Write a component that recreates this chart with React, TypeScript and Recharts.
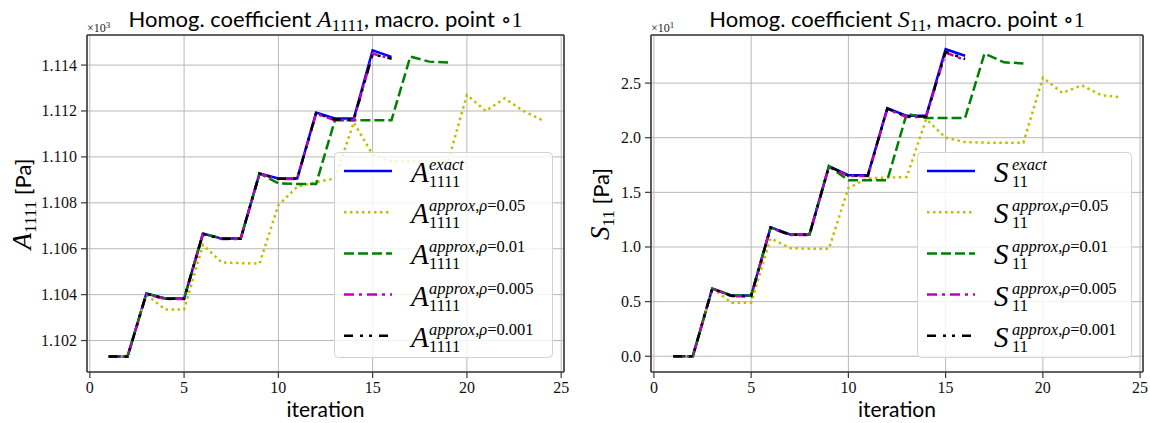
import React from 'react';
import { LineChart, Line, XAxis, YAxis, CartesianGrid } from 'recharts';

// ---------- data ----------
const iterations = [1, 2, 3, 4, 5, 6, 7, 8, 9, 10, 11, 12, 13, 14, 15, 16, 17, 18, 19, 20, 21, 22, 23, 24];
const xTicks = [0, 5, 10, 15, 20, 25];

// A_1111 (x10^3 Pa)
const aExact = [1.1013, 1.1013, 1.10405, 1.10383, 1.10383, 1.10666, 1.10644, 1.10644, 1.10928, 1.10906, 1.10906, 1.11193, 1.11167, 1.11167, 1.11464, 1.11436];
const aRho005 = [1.1013, 1.1013, 1.10403, 1.10381, 1.10381, 1.10664, 1.10642, 1.10642, 1.10926, 1.10904, 1.10904, 1.11188, 1.1116, 1.1116, 1.1145, 1.11427];
const aRho001 = [1.1013, 1.1013, 1.10404, 1.10382, 1.10382, 1.10665, 1.10643, 1.10643, 1.10927, 1.10905, 1.10905, 1.1119, 1.11163, 1.11163, 1.11447, 1.11428];
const aRho01 = [1.1013, 1.1013, 1.10405, 1.10383, 1.10383, 1.10666, 1.10644, 1.10644, 1.10928, 1.10885, 1.10882, 1.10882, 1.1116, 1.1116, 1.1116, 1.1116, 1.11437, 1.11415, 1.11411];
const aRho05 = [1.1013, 1.1013, 1.104, 1.10335, 1.10335, 1.10617, 1.1054, 1.10537, 1.10535, 1.1079, 1.1087, 1.1089, 1.10906, 1.1115, 1.1101, 1.1098, 1.1098, 1.1098, 1.1098, 1.1127, 1.112, 1.11255, 1.112, 1.1116];
const aTicks = [1.102, 1.104, 1.106, 1.108, 1.11, 1.112, 1.114];

// S_11 (x10^1 Pa)
const sExact = [0, 0, 0.62, 0.555, 0.555, 1.18, 1.115, 1.115, 1.74, 1.657, 1.657, 2.27, 2.2, 2.2, 2.81, 2.75];
const sRho005 = [0, 0, 0.62, 0.55, 0.55, 1.175, 1.11, 1.11, 1.735, 1.65, 1.65, 2.26, 2.19, 2.19, 2.78, 2.71];
const sRho001 = [0, 0, 0.62, 0.552, 0.552, 1.177, 1.112, 1.112, 1.737, 1.652, 1.652, 2.265, 2.195, 2.195, 2.785, 2.72];
const sRho01 = [0, 0, 0.62, 0.555, 0.555, 1.18, 1.115, 1.115, 1.74, 1.61, 1.61, 1.61, 2.22, 2.18, 2.18, 2.18, 2.77, 2.69, 2.68];
const sRho05 = [0, 0, 0.62, 0.49, 0.49, 1.08, 0.99, 0.985, 0.985, 1.54, 1.63, 1.635, 1.64, 2.17, 2.0, 1.96, 1.955, 1.955, 1.955, 2.55, 2.41, 2.48, 2.39, 2.37];
const sTicks = [0, 0.5, 1.0, 1.5, 2.0, 2.5];

const supLabels = ['exact', 'approx,ρ=0.05', 'approx,ρ=0.01', 'approx,ρ=0.005', 'approx,ρ=0.001'];
const seriesKeys = ['exact', 'r05', 'r01', 'r005', 'r001'];
const seriesColors = ['#0000ff', '#bfbf00', '#008000', '#bf00bf', '#000000'];
const seriesDash = ['', '2.5 3.5', '10 4', '10 5 3 5', '9 7 3 6 3 7'];

// ---------- helpers ----------
const buildRows = (lists: number[][]) =>
  iterations.map((it, i) => {
    const row: any = { it };
    seriesKeys.forEach((k, j) => {
      row[k] = i < lists[j].length ? lists[j][i] : undefined;
    });
    return row;
  });

const aRows = buildRows([aExact, aRho05, aRho01, aRho005, aRho001]);
const sRows = buildRows([sExact, sRho05, sRho01, sRho005, sRho001]);

const SERIF = 'Liberation Serif, DejaVu Serif, serif';
const SANS = 'Lato, Open Sans, sans-serif';
const SPINE = '#3a3a3a';

type PanelProps = {
  cx: number;
  cw: number;
  plotLeft: number;
  plotRight: number;
  rows: any[];
  yDomain: [number, number];
  yTicks: number[];
  yFmt: (v: number) => string;
};

const makeTick = (fmt: (v: number) => string, dy: string) => (p: any) => (
  <text
    x={p.x}
    y={p.y}
    dy={dy}
    textAnchor={p.textAnchor}
    fontSize={16}
    fill="#111"
    style={{ fontFamily: SERIF }}
  >
    {fmt(p.payload.value)}
  </text>
);

function Panel({ cx, cw, plotLeft, plotRight, rows, yDomain, yTicks, yFmt }: PanelProps) {
  const yW = plotLeft - cx;
  const mRight = cw - (plotRight - cx) - 1;
  return (
    <div style={{ position: 'absolute', left: cx, top: 0 }}>
      <LineChart width={cw} height={423} data={rows} margin={{ top: 34, right: mRight, bottom: 0, left: 0 }}>
        <CartesianGrid stroke="#b8b8b8" strokeWidth={1} />
        <XAxis
          dataKey="it"
          type="number"
          domain={[-0.15, 25.15]}
          ticks={xTicks}
          allowDataOverflow
          height={51}
          tickSize={6}
          tickMargin={3}
          tick={makeTick((v) => String(v), '0.75em')}
          axisLine={{ stroke: SPINE, strokeWidth: 1.6 }}
          tickLine={{ stroke: SPINE, strokeWidth: 1.2 }}
        />
        <XAxis
          xAxisId="top"
          orientation="top"
          dataKey="it"
          type="number"
          domain={[-0.15, 25.15]}
          allowDataOverflow
          height={1}
          tick={false}
          tickLine={false}
          axisLine={{ stroke: SPINE, strokeWidth: 1.6 }}
        />
        <YAxis
          type="number"
          domain={yDomain}
          ticks={yTicks}
          allowDataOverflow
          width={yW}
          tickSize={6}
          tickMargin={4}
          tick={makeTick(yFmt, '0.34em')}
          axisLine={{ stroke: SPINE, strokeWidth: 1.6 }}
          tickLine={{ stroke: SPINE, strokeWidth: 1.2 }}
        />
        <YAxis
          yAxisId="right"
          orientation="right"
          type="number"
          domain={yDomain}
          allowDataOverflow
          width={1}
          tick={false}
          tickLine={false}
          axisLine={{ stroke: SPINE, strokeWidth: 1.6 }}
        />
        {seriesKeys.map((k, i) => (
          <Line
            key={k}
            type="linear"
            dataKey={k}
            stroke={seriesColors[i]}
            strokeWidth={2.5}
            strokeDasharray={seriesDash[i] || undefined}
            dot={false}
            activeDot={false}
            isAnimationActive={false}
          />
        ))}
      </LineChart>
    </div>
  );
}

function SupText({ text }: { text: string }) {
  const parts: { t: string; it: boolean }[] = [];
  for (const ch of text) {
    const it = /[a-zρ]/.test(ch);
    const last = parts[parts.length - 1];
    if (last && last.it === it) last.t += ch;
    else parts.push({ t: ch, it });
  }
  return (
    <>
      {parts.map((p, i) => (
        <tspan key={i} fontStyle={p.it ? 'italic' : 'normal'}>
          {p.t}
        </tspan>
      ))}
    </>
  );
}

function LegendBox({ x, y, w, base, sub }: { x: number; y: number; w: number; base: string; sub: string }) {
  const h = 206;
  return (
    <g transform={`translate(${x},${y})`}>
      <rect x={0.5} y={0.5} width={w - 1} height={h - 1} rx={4} fill="rgba(255,255,255,0.82)" stroke="#d2d2d2" />
      {seriesKeys.map((k, i) => {
        const ly = 19 + i * 41.2;
        return (
          <g key={k}>
            <line x1={10} x2={58} y1={ly} y2={ly} stroke={seriesColors[i]} strokeWidth={2.5} strokeDasharray={seriesDash[i] || undefined} />
            <text x={77} y={ly + 11} fontStyle="italic" fontSize={29} fill="#000" style={{ fontFamily: SERIF }}>
              {base}
            </text>
            <text x={95} y={ly - 1} fontSize={16.5} fill="#000" style={{ fontFamily: SERIF }}>
              <SupText text={supLabels[i]} />
            </text>
            <text x={95} y={ly + 16} fontSize={16.5} fill="#000" style={{ fontFamily: SERIF }}>
              {sub}
            </text>
          </g>
        );
      })}
    </g>
  );
}

function Title({ cx, base, sub }: { cx: number; base: string; sub: string }) {
  return (
    <text x={cx} y={27} textAnchor="middle" fontSize={22} fill="#000" style={{ fontFamily: SANS }}>
      <tspan>Homog. coefficient </tspan>
      <tspan fontStyle="italic" fontSize={24} style={{ fontFamily: SERIF }}>
        {base}
      </tspan>
      <tspan fontSize={17} dy={4} style={{ fontFamily: SERIF }}>
        {sub}
      </tspan>
      <tspan dy={-4}>, macro. point </tspan>
      <tspan fontSize={22} style={{ fontFamily: SERIF }}>
        ∘1
      </tspan>
    </text>
  );
}

function YLabel({ x, y, base, sub }: { x: number; y: number; base: string; sub: string }) {
  return (
    <text transform={`translate(${x},${y}) rotate(-90)`} textAnchor="middle" fontSize={22} fill="#000" style={{ fontFamily: SANS }}>
      <tspan fontStyle="italic" fontSize={27} style={{ fontFamily: SERIF }}>
        {base}
      </tspan>
      <tspan fontSize={17} dy={5} style={{ fontFamily: SERIF }}>
        {sub}
      </tspan>
      <tspan dy={-5}> [Pa]</tspan>
    </text>
  );
}

export default function App() {
  const left = { l: 87, r: 564 };
  const right = { l: 651, r: 1143 };
  return (
    <div style={{ position: 'absolute', left: 0, top: 0, width: 1150, height: 423, background: '#fff', overflow: 'hidden' }}>
      <Panel
        cx={0}
        cw={600}
        plotLeft={left.l}
        plotRight={left.r}
        rows={aRows}
        yDomain={[1.10063, 1.11531]}
        yTicks={aTicks}
        yFmt={(v) => v.toFixed(3)}
      />
      <Panel
        cx={590}
        cw={560}
        plotLeft={right.l}
        plotRight={right.r}
        rows={sRows}
        yDomain={[-0.144, 2.94]}
        yTicks={sTicks}
        yFmt={(v) => v.toFixed(1)}
      />
      <svg width={1150} height={423} style={{ position: 'absolute', left: 0, top: 0, pointerEvents: 'none' }}>
        <Title cx={(left.l + left.r) / 2} base="A" sub="1111" />
        <Title cx={(right.l + right.r) / 2} base="S" sub="11" />
        <text x={left.l} y={32} fontSize={12} fill="#222" style={{ fontFamily: SERIF }}>
          ×10<tspan fontSize={9} dy={-4}>3</tspan>
        </text>
        <text x={right.l} y={32} fontSize={12} fill="#222" style={{ fontFamily: SERIF }}>
          ×10<tspan fontSize={9} dy={-4}>1</tspan>
        </text>
        <YLabel x={31} y={204} base="A" sub="1111" />
        <YLabel x={609} y={204} base="S" sub="11" />
        <text x={(left.l + left.r) / 2} y={417} textAnchor="middle" fontSize={21} fill="#000" style={{ fontFamily: SANS }}>
          iteration
        </text>
        <text x={(right.l + right.r) / 2} y={417} textAnchor="middle" fontSize={21} fill="#000" style={{ fontFamily: SANS }}>
          iteration
        </text>
        <LegendBox x={334} y={152} w={219} base="A" sub="1111" />
        <LegendBox x={917} y={152} w={215} base="S" sub="11" />
      </svg>
    </div>
  );
}
